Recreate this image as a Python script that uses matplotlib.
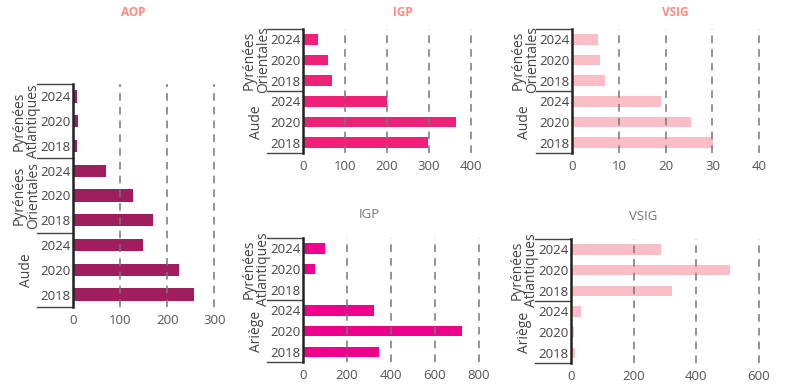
import matplotlib
matplotlib.use("Agg")
import matplotlib.pyplot as plt
from matplotlib.transforms import blended_transform_factory
from matplotlib.lines import Line2D

plt.rcParams['font.family'] = ['Open Sans', 'DejaVu Sans']

years = ['2018', '2020', '2024']

# AOP (bottom to top groups)
aop_groups = ['Aude', 'Pyrénées\nOrientales', 'Pyrénées\nAtlantiques']
aop_aude = [257, 226, 149]
aop_po = [169, 128, 71]
aop_pa = [9, 11, 9]

# IGP top
igp1_groups = ['Aude', 'Pyrénées\nOrientales']
igp1_aude = [298, 364, 200]
igp1_po = [70, 60, 36]

# VSIG top
vsig1_groups = ['Aude', 'Pyrénées\nOrientales']
vsig1_aude = [30.1, 25.5, 19.1]
vsig1_po = [7.0, 5.9, 5.6]

# IGP bottom
igp2_groups = ['Ariège', 'Pyrénées\nAtlantiques']
igp2_ariege = [347, 726, 323]
igp2_pa = [0, 53, 100]

# VSIG bottom
vsig2_groups = ['Ariège', 'Pyrénées\nAtlantiques']
vsig2_ariege = [12, 9, 33]
vsig2_pa = [323, 509, 288]

W, H = 800, 387
fig = plt.figure(figsize=(W / 100, H / 100), dpi=100)

TXT = '#444444'


def panel(left, top, bottom, right, groups, values, color, xlim, xticks,
          title, title_x, title_y, title_bold):
    ax = fig.add_axes([left / W, (H - bottom) / H, (right - left) / W, (bottom - top) / H])
    vals = [v for g in values for v in g]
    labels = [y for g in values for y in years]
    ypos = list(range(len(vals)))
    ax.barh(ypos, vals, height=0.5, color=color, zorder=1)
    ax.set_ylim(-0.5, len(vals) - 0.5)
    ax.set_xlim(*xlim)
    ax.set_yticks(ypos)
    ax.set_yticklabels(labels, fontsize=9.5, color=TXT)
    ax.set_xticks(xticks)
    ax.set_xticklabels([str(t) for t in xticks], fontsize=9.5, color='#555555')
    ax.tick_params(axis='both', length=0)
    ax.tick_params(axis='y', pad=2)
    ax.tick_params(axis='x', pad=5)
    for s in ['top', 'right', 'bottom']:
        ax.spines[s].set_visible(False)
    ax.spines['left'].set_linewidth(1.8)
    ax.spines['left'].set_color('#222222')
    ax.set_axisbelow(False)
    for t in xticks:
        if t != 0:
            ax.axvline(t, color='#777777', lw=1.1, ls=(0, (5, 4)), zorder=2)
    tr = blended_transform_factory(fig.transFigure, ax.transData)
    n = len(groups)
    for k in range(n + 1):
        yb = k * 3 - 0.5
        ax.add_line(Line2D([(left - 36) / W, left / W], [yb, yb], transform=tr,
                           color='#444444', lw=1.0, clip_on=False))
    for k, g in enumerate(groups):
        ax.text((left - 47) / W, k * 3 + 1, g, transform=tr, rotation=90,
                ha='center', va='center', fontsize=10, color=TXT,
                linespacing=0.95, multialignment='center')
    fig.text(title_x / W, 1 - title_y / H, title, ha='center', va='center',
             fontsize=8.5 if title_bold else 9.5,
             fontweight='bold' if title_bold else 'normal',
             color='#ff8a80' if title_bold else '#777777')
    return ax


panel(73, 84, 307, 219, aop_groups, [aop_aude, aop_po, aop_pa], '#a01e5e',
      (0, 310), [0, 100, 200, 300], 'AOP', 133, 12, True)
panel(303, 29, 153, 475, igp1_groups, [igp1_aude, igp1_po], '#ee2077',
      (0, 410), [0, 100, 200, 300, 400], 'IGP', 403, 12, True)
panel(572, 29, 153, 764, vsig1_groups, [vsig1_aude, vsig1_po], '#fbbec6',
      (0, 41), [0, 10, 20, 30, 40], 'VSIG', 675, 12, True)
panel(303, 238, 362, 483, igp2_groups, [igp2_ariege, igp2_pa], '#ec008c',
      (0, 820), [0, 200, 400, 600, 800], 'IGP', 369, 215, False)
panel(571, 239, 363, 765, vsig2_groups, [vsig2_ariege, vsig2_pa], '#fbbec6',
      (0, 620), [0, 200, 400, 600], 'VSIG', 643, 216, False)

fig.savefig('out.png', dpi=100)
